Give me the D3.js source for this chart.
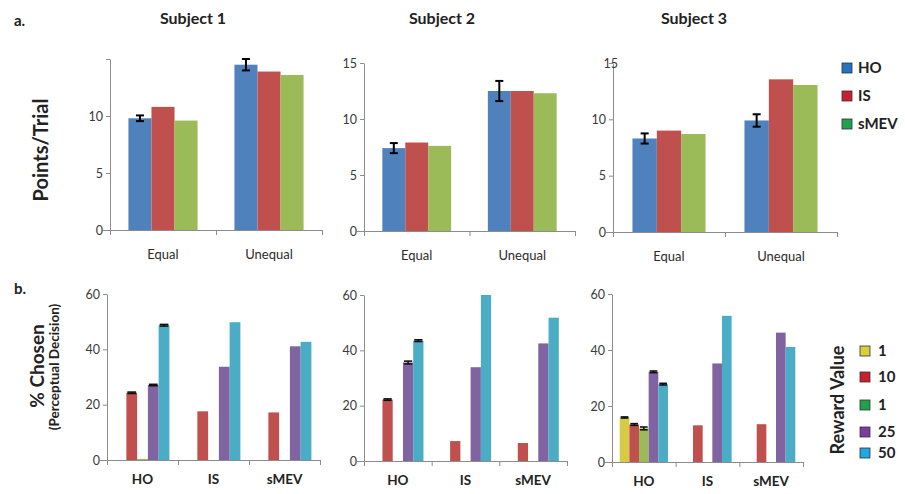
<!DOCTYPE html>
<meta charset="utf-8">
<script src="https://d3js.org/d3.v7.min.js"></script>
<style>
  body { margin: 0; background: #fff; }
  text { font-family: Lato, "Open Sans", sans-serif; }
</style>
<div id="chart"></div>
<script>
    // ---- data ----
    const subjects = ["Subject 1", "Subject 2", "Subject 3"];
    const conditions = ["Equal", "Unequal"];
    const models = ["HO", "IS", "sMEV"];

    // points/trial per subject: [Equal, Unequal]
    const hoPoints   = [[9.8, 14.5], [7.4, 12.5], [8.3, 9.9]];
    const hoErr      = [[0.25, 0.5], [0.45, 0.9], [0.45, 0.55]];
    const isPoints   = [[10.8, 13.9], [7.9, 12.5], [9.0, 13.55]];
    const smevPoints = [[9.6, 13.6], [7.6, 12.3], [8.7, 13.05]];

    const agents = ["HO", "IS", "sMEV"];
    const rewardLabels = ["1", "10", "1", "25", "50"];
    // % chosen per subject, per agent [HO, IS, sMEV]
    const reward1a  = [[0, 0, 0], [0, 0, 0], [15.9, 0, 0]];
    const reward10  = [[24.3, 17.6, 17.2], [22.2, 7.2, 6.5], [13.4, 13.1, 13.5]];
    const reward1b  = [[0.4, 0, 0], [0, 0, 0], [12.0, 0, 0]];
    const reward25  = [[27.1, 33.7, 41.1], [35.6, 33.9, 42.5], [32.2, 35.2, 46.2]];
    const reward50  = [[48.7, 49.8, 42.7], [43.5, 60, 51.8], [27.8, 52.2, 41.1]];
    // error only on the HO group
    const rewardErr = [[0, 0.25, 0, 0.25, 0.3], [0, 0.25, 0, 0.5, 0.3], [0.2, 0.3, 0.5, 0.3, 0.3]];

    const topTicks = [0, 5, 10, 15];
    const botTicks = [0, 20, 40, 60];

    // ---- look ----
    const barColors = ["#4f81bd", "#c0504d", "#9bbb59"];
    const topLegendColors = ["#2273c3", "#c8202f", "#22a04c"];
    const rewardColors = ["#d6cb45", "#c0504d", "#9bbb59", "#8064a2", "#4bacc6"];
    const rewardLegendColors = ["#d8cf3a", "#c8202f", "#22a04c", "#7d3b9e", "#1fa9e2"];

    const topPanels = [
        {x0: 110, x1: 322, y0: 230, y1: 59},
        {x0: 364, x1: 575, y0: 231, y1: 63},
        {x0: 613, x1: 837, y0: 232, y1: 63}
    ];
    const botPanels = [
        {x0: 107, x1: 320, y0: 460, y1: 294},
        {x0: 364, x1: 567, y0: 461, y1: 295},
        {x0: 612, x1: 803, y0: 462, y1: 294}
    ];

    const svg = d3.select("#chart")
        .append("svg")
            .attr("width", 905)
            .attr("height", 494);

    function styleAxis(g) {
        g.select(".domain").attr("stroke", "#8c8c8c");
        g.selectAll(".tick line").attr("stroke", "#8c8c8c");
        g.selectAll(".tick text")
            .attr("fill", "#3a3a3a")
            .style("font-size", "12.5px");
    }

    // ---- top row ----
    subjects.forEach(function(subj, i) {
        const p = topPanels[i];
        const y = d3.scaleLinear().domain([0, 15]).range([p.y0, p.y1]);
        const x = d3.scaleBand().domain(conditions).range([p.x0, p.x1]).paddingInner(0).paddingOuter(0);
        const xs = d3.scaleBand().domain(models).range([0, x.bandwidth()]).paddingOuter(0.8);
        const xb = d3.scaleLinear().domain([0, 2]).range([p.x0, p.x1]);

        const rows = [];
        conditions.forEach(function(c, ci) {
            rows.push({c: c, m: "HO", v: hoPoints[i][ci], e: hoErr[i][ci], k: 0});
            rows.push({c: c, m: "IS", v: isPoints[i][ci], e: 0, k: 1});
            rows.push({c: c, m: "sMEV", v: smevPoints[i][ci], e: 0, k: 2});
        });

        const g = svg.append("g");
        g.selectAll("rect")
            .data(rows)
            .join("rect")
            .attr("x", d => x(d.c) + xs(d.m))
            .attr("y", d => y(d.v))
            .attr("width", xs.bandwidth())
            .attr("height", d => y(0) - y(d.v))
            .attr("fill", d => barColors[d.k]);

        const errs = rows.filter(d => d.e > 0);
        const cap = 4;
        errs.forEach(function(d) {
            const cx = x(d.c) + xs(d.m) + xs.bandwidth() / 2;
            const eg = g.append("g").attr("stroke", "#000").attr("stroke-width", 2);
            eg.append("line").attr("x1", cx).attr("x2", cx).attr("y1", y(d.v + d.e)).attr("y2", y(d.v - d.e));
            eg.append("line").attr("x1", cx - cap).attr("x2", cx + cap).attr("y1", y(d.v + d.e)).attr("y2", y(d.v + d.e));
            eg.append("line").attr("x1", cx - cap).attr("x2", cx + cap).attr("y1", y(d.v - d.e)).attr("y2", y(d.v - d.e));
        });

        const ya = g.append("g")
            .attr("transform", `translate(${p.x0},0)`)
            .call(d3.axisLeft(y).tickValues(topTicks).tickSize(4).tickSizeOuter(0)
                .tickFormat(d => (i === 0 && d === 15) ? "" : d));
        styleAxis(ya);
        if (i === 2) ya.selectAll(".tick text").filter(d => d === 15).attr("dx", 12);

        const xa = g.append("g")
            .attr("transform", `translate(0,${p.y0})`)
            .call(d3.axisBottom(xb).tickValues([0, 1, 2]).tickSize(5).tickSizeOuter(0).tickFormat(""));
        styleAxis(xa);
        g.append("line")
            .attr("x1", p.x0 - 7).attr("x2", p.x0)
            .attr("y1", p.y0 + 0.5).attr("y2", p.y0 + 0.5)
            .attr("stroke", "#8c8c8c");

        g.selectAll(".cat")
            .data(conditions)
            .join("text")
            .attr("x", d => x(d) + x.bandwidth() / 2)
            .attr("y", p.y0 + 29)
            .attr("text-anchor", "middle")
            .attr("fill", "#2b2b2b")
            .style("font-size", "13px")
            .text(d => d);

        g.append("text")
            .attr("x", [193, 442, 694][i])
            .attr("y", 24)
            .attr("text-anchor", "middle")
            .attr("font-weight", "bold")
            .attr("fill", "#222")
            .style("font-size", "16px")
            .text(subj);
    });

    // ---- bottom row ----
    const rewardSeries = [reward1a, reward10, reward1b, reward25, reward50];
    subjects.forEach(function(subj, i) {
        const p = botPanels[i];
        const y = d3.scaleLinear().domain([0, 60]).range([p.y0, p.y1]);
        const x = d3.scaleBand().domain(agents).range([p.x0, p.x1]);
        const xs = d3.scaleBand().domain(d3.range(5)).range([0, x.bandwidth()]).paddingOuter(0.8);
        const xb = d3.scaleLinear().domain([0, 3]).range([p.x0, p.x1]);

        const rows = [];
        agents.forEach(function(a, ai) {
            rewardSeries.forEach(function(s, k) {
                rows.push({a: a, k: k, v: s[i][ai], e: ai === 0 ? rewardErr[i][k] : 0});
            });
        });
        const shown = rows.filter(d => d.v > 0);

        const g = svg.append("g");
        g.selectAll("rect")
            .data(shown)
            .join("rect")
            .attr("x", d => x(d.a) + xs(d.k))
            .attr("y", d => y(d.v))
            .attr("width", xs.bandwidth())
            .attr("height", d => y(0) - y(d.v))
            .attr("fill", d => rewardColors[d.k]);

        shown.filter(d => d.e > 0).forEach(function(d) {
            const bx = x(d.a) + xs(d.k);
            const cx = bx + xs.bandwidth() / 2;
            const eg = g.append("g").attr("stroke", "#111").attr("stroke-width", 1.6);
            eg.append("line").attr("x1", cx).attr("x2", cx).attr("y1", y(d.v + d.e)).attr("y2", y(d.v - d.e));
            eg.append("line").attr("x1", bx + 1).attr("x2", bx + xs.bandwidth() - 1).attr("y1", y(d.v + d.e)).attr("y2", y(d.v + d.e));
            eg.append("line").attr("x1", bx + 1).attr("x2", bx + xs.bandwidth() - 1).attr("y1", y(d.v - d.e)).attr("y2", y(d.v - d.e));
        });

        const ya = g.append("g")
            .attr("transform", `translate(${p.x0},0)`)
            .call(d3.axisLeft(y).tickValues(botTicks).tickSize(4).tickSizeOuter(0));
        styleAxis(ya);

        const xa = g.append("g")
            .attr("transform", `translate(0,${p.y0})`)
            .call(d3.axisBottom(xb).tickValues([0, 1, 2, 3]).tickSize(5).tickSizeOuter(0).tickFormat(""));
        styleAxis(xa);
        g.append("line")
            .attr("x1", p.x0 - 7).attr("x2", p.x0)
            .attr("y1", p.y0 + 0.5).attr("y2", p.y0 + 0.5)
            .attr("stroke", "#8c8c8c");

        g.selectAll(".cat")
            .data(agents)
            .join("text")
            .attr("x", d => x(d) + x.bandwidth() / 2)
            .attr("y", p.y0 + 24)
            .attr("text-anchor", "middle")
            .attr("font-weight", "bold")
            .attr("fill", "#222")
            .style("font-size", "13.5px")
            .text(d => d);
    });

    // ---- labels ----
    svg.append("text").attr("x", 14).attr("y", 26).attr("font-weight", "bold")
        .style("font-size", "15px").attr("fill", "#222").text("a.");
    svg.append("text").attr("x", 14).attr("y", 294).attr("font-weight", "bold")
        .style("font-size", "15px").attr("fill", "#222").text("b.");

    svg.append("text")
        .attr("transform", "translate(48,150) rotate(-90)")
        .attr("text-anchor", "middle")
        .attr("font-weight", "bold")
        .attr("fill", "#222")
        .style("font-size", "20px")
        .text("Points/Trial");

    svg.append("text")
        .attr("transform", "translate(44,366) rotate(-90)")
        .attr("text-anchor", "middle")
        .attr("font-weight", "bold")
        .attr("fill", "#222")
        .style("font-size", "19px")
        .text("% Chosen");
    svg.append("text")
        .attr("transform", "translate(59,367) rotate(-90)")
        .attr("text-anchor", "middle")
        .attr("font-weight", "bold")
        .attr("fill", "#222")
        .style("font-size", "13.5px")
        .text("(Perceptual Decision)");

    svg.append("text")
        .attr("transform", "translate(844,400) rotate(-90)")
        .attr("text-anchor", "middle")
        .attr("font-weight", "bold")
        .attr("fill", "#222")
        .style("font-size", "18px")
        .text("Reward Value");

    // ---- legends ----
    const topLeg = svg.append("g").selectAll("g")
        .data(models)
        .join("g")
        .attr("transform", (d, k) => `translate(842,${63 + k * 28})`);
    topLeg.append("rect")
        .attr("width", 10).attr("height", 10)
        .attr("fill", (d, k) => topLegendColors[k])
        .attr("stroke", "#333").attr("stroke-width", 0.8);
    topLeg.append("text")
        .attr("x", 16).attr("y", 10)
        .attr("font-weight", "bold")
        .attr("fill", "#222")
        .style("font-size", "15px")
        .text(d => d);

    const rewardY = [351, 377, 405, 432, 453];
    const botLeg = svg.append("g").selectAll("g")
        .data(rewardLabels)
        .join("g")
        .attr("transform", (d, k) => `translate(860,${rewardY[k] - 5})`);
    botLeg.append("rect")
        .attr("width", 10).attr("height", 10)
        .attr("fill", (d, k) => rewardLegendColors[k])
        .attr("stroke", "#333").attr("stroke-width", 0.8);
    botLeg.append("text")
        .attr("x", 18).attr("y", 10)
        .attr("font-weight", "bold")
        .attr("fill", "#222")
        .style("font-size", "15px")
        .text(d => d);
</script>
